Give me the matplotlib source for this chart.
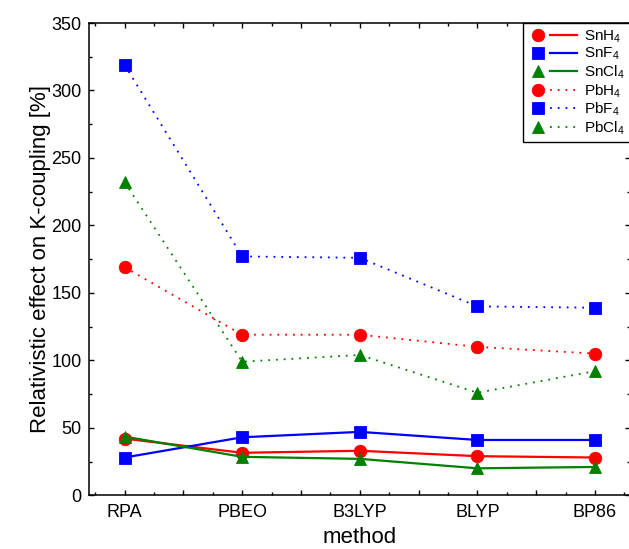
import matplotlib
matplotlib.use("Agg")
import matplotlib.pyplot as plt
from matplotlib.lines import Line2D
from matplotlib.legend_handler import HandlerBase
from matplotlib.ticker import MultipleLocator, FixedLocator, FixedFormatter

plt.rcParams['font.family'] = ['Liberation Sans', 'DejaVu Sans']
plt.rcParams['mathtext.fontset'] = 'custom'
plt.rcParams['mathtext.rm'] = 'Liberation Sans'
plt.rcParams['mathtext.it'] = 'Liberation Sans:italic'
plt.rcParams['mathtext.bf'] = 'Liberation Sans:bold'

# ---- data ----
methods = ['RPA', 'PBEO', 'B3LYP', 'BLYP', 'BP86']
sn_h4 = [42, 31.5, 33, 29, 28]
sn_f4 = [28, 43, 47, 41, 41]
sn_cl4 = [43.5, 28.5, 27, 20, 21]
pb_h4 = [169, 119, 119, 110, 105]
pb_f4 = [319, 177, 176, 140, 139]
pb_cl4 = [232, 99, 104, 76, 92]

series_labels = ['SnH$_\\mathregular{4}$', 'SnF$_\\mathregular{4}$', 'SnCl$_\\mathregular{4}$',
                 'PbH$_\\mathregular{4}$', 'PbF$_\\mathregular{4}$', 'PbCl$_\\mathregular{4}$']
y_label = 'Relativistic effect on K-coupling [%]'
x_label = 'method'

RED, BLUE, GREEN = '#ff0000', '#0000ff', '#008000'


class MarkerThenLine(HandlerBase):
    def create_artists(self, legend, orig_handle, xdescent, ydescent,
                       width, height, fontsize, trans):
        y = height / 2.0 - ydescent
        mk = Line2D([width * 0.2 - xdescent], [y])
        mk.update_from(orig_handle)
        mk.set_linestyle('none')
        ln = Line2D([width * 0.45 - xdescent, width - xdescent], [y, y])
        ln.update_from(orig_handle)
        ln.set_marker('')
        mk.set_transform(trans)
        ln.set_transform(trans)
        return [ln, mk]


fig = plt.figure(figsize=(6.29, 5.49), dpi=100)
W, H = 629.0, 549.0
ax_left, ax_right, ax_top, ax_bot = 89.3, 630.3, 23.0, 495.3
ax = fig.add_axes([ax_left / W, 1 - ax_bot / H, (ax_right - ax_left) / W, (ax_bot - ax_top) / H])

x = list(range(len(methods)))
ms = 9
mew = 0.6
solid = dict(linestyle='-', linewidth=1.6, markersize=ms, markeredgewidth=mew)
dotted = dict(linestyle=(0, (1, 3.3)), linewidth=1.3, markersize=ms, markeredgewidth=mew)

handles = []
handles += ax.plot(x, sn_h4, color=RED, marker='o', **solid)
handles += ax.plot(x, sn_f4, color=BLUE, marker='s', **solid)
handles += ax.plot(x, sn_cl4, color=GREEN, marker='^', **solid)
handles += ax.plot(x, pb_h4, color=RED, marker='o', **dotted)
handles += ax.plot(x, pb_f4, color=BLUE, marker='s', **dotted)
handles += ax.plot(x, pb_cl4, color=GREEN, marker='^', **dotted)

ax.set_xlim(-0.3, 4.3)
ax.set_ylim(0, 350)

# x ticks: majors at categories and halves, labels only at categories
major_pos = [i * 0.5 for i in range(0, 2 * len(methods))]
major_lab = [methods[int(p)] if float(p).is_integer() and int(p) < len(methods) else '' for p in major_pos]
ax.xaxis.set_major_locator(FixedLocator(major_pos))
ax.xaxis.set_major_formatter(FixedFormatter(major_lab))
ax.xaxis.set_minor_locator(MultipleLocator(0.25))
ax.yaxis.set_major_locator(MultipleLocator(50))
ax.yaxis.set_minor_locator(MultipleLocator(25))

ax.tick_params(which='both', direction='in', top=True, right=True, width=1.0, labelsize=13)
ax.tick_params(which='major', length=3.4)
ax.tick_params(which='minor', length=2.0)
ax.tick_params(axis='x', which='major', pad=6.0)
ax.tick_params(axis='y', which='major', pad=5.5)
for s in ax.spines.values():
    s.set_linewidth(1.1)

ax.set_xlabel(x_label, fontsize=16)
ax.set_ylabel(y_label, fontsize=16)
ax.xaxis.set_label_coords(0.5, -0.0667)
ax.yaxis.set_label_coords((51.4 - ax_left) / (ax_right - ax_left), 0.5)

leg = ax.legend(handles, series_labels, loc='upper right', fontsize=11,
                handler_map={Line2D: MarkerThenLine()},
                handlelength=3.2, handletextpad=0.45, borderpad=0.35,
                labelspacing=0.08, borderaxespad=0, fancybox=False,
                framealpha=1, edgecolor='black')
leg.get_frame().set_linewidth(1.0)

fig.savefig('out.png', dpi=100)
